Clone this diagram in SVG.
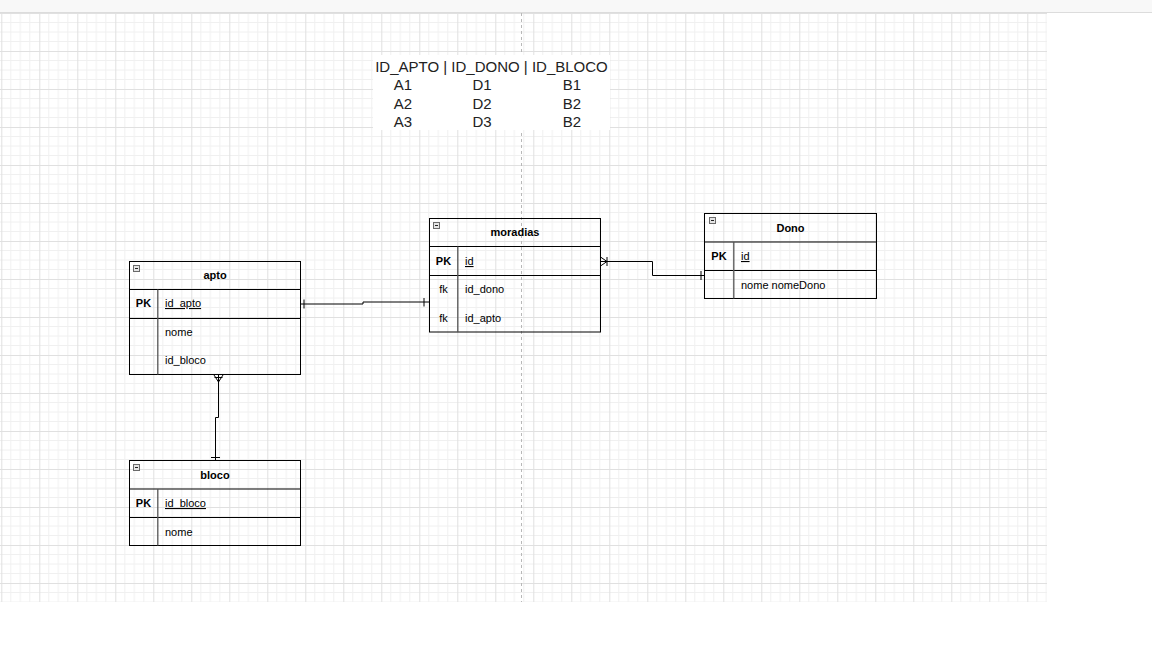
<svg xmlns="http://www.w3.org/2000/svg" width="1152" height="648" viewBox="0 0 1152 648">
<defs>
<pattern id="grid" x="1.3" y="13" width="38" height="38" patternUnits="userSpaceOnUse">
<path d="M9.5,0V38M19,0V38M28.5,0V38M0,9.5H38M0,19H38M0,28.5H38" stroke="#f0f0f0" stroke-width="1" fill="none"/>
<path d="M0.5,0V38M0,0.5H38" stroke="#e0e0e0" stroke-width="1" fill="none"/>
</pattern>
<style>
.box{fill:none;stroke:#000;stroke-width:1}
.sep{stroke:#000;stroke-width:1}
.div{stroke:#555;stroke-width:1.3}
.title{font-family:"Liberation Sans",Arial,sans-serif;font-size:11px;font-weight:bold;fill:#000;text-anchor:middle}
.pk{font-family:"Liberation Sans",Arial,sans-serif;font-size:11px;font-weight:bold;fill:#000;text-anchor:middle}
.fk{font-family:"Liberation Sans",Arial,sans-serif;font-size:11px;fill:#000;text-anchor:middle}
.fld{font-family:"Liberation Sans",Arial,sans-serif;font-size:11px;fill:#000}
.u{text-decoration:underline}
.icon{fill:#e4e4e4;stroke:#6a6a6a;stroke-width:1}
.minus{stroke:#222;stroke-width:1}
.conn{fill:none;stroke:#000;stroke-width:1}
.tbl{font-family:"Liberation Sans",Arial,sans-serif;font-size:15px;fill:#222}
</style>
</defs>
<rect x="0" y="0" width="1152" height="648" fill="#fff"/>
<rect x="0" y="0" width="1152" height="12" fill="#f8f8f8"/>
<line x1="0" y1="12.5" x2="1152" y2="12.5" stroke="#dcdcdc"/>
<rect x="0" y="13" width="1047" height="589" fill="url(#grid)"/>
<line x1="521.5" y1="13" x2="521.5" y2="602" stroke="#b8b8b8" stroke-dasharray="3,3"/>

<g id="note">
<rect x="373" y="55" width="237" height="75" fill="#fff"/>
<text class="tbl" x="491.5" y="72" text-anchor="middle">ID_APTO | ID_DONO | ID_BLOCO</text>
<text class="tbl" x="403" y="90" text-anchor="middle">A1</text>
<text class="tbl" x="482" y="90" text-anchor="middle">D1</text>
<text class="tbl" x="572" y="90" text-anchor="middle">B1</text>
<text class="tbl" x="403" y="109" text-anchor="middle">A2</text>
<text class="tbl" x="482" y="109" text-anchor="middle">D2</text>
<text class="tbl" x="572" y="109" text-anchor="middle">B2</text>
<text class="tbl" x="403" y="127" text-anchor="middle">A3</text>
<text class="tbl" x="482" y="127" text-anchor="middle">D3</text>
<text class="tbl" x="572" y="127" text-anchor="middle">B2</text>
</g>

<g id="connectors">
<path class="conn" d="M300.5,304 H363 V302 H429.5"/>
<path class="conn" d="M304,299.5 V308.5 M424,298 V306.5"/>
<path class="conn" d="M600.5,261.5 H652.5 V275.5 H704.5"/>
<path class="conn" d="M600.5,257 L607,261.5 L600.5,266 M607,257 V266 M701,271 V280"/>
<path class="conn" d="M218.5,375 V417.5 H215.5 V460.5"/>
<path class="conn" d="M214,375 L218.5,382 L223,375 M214.5,377.5 H222.5 M211,457.5 H220"/>
</g>

<g id="apto">
<rect class="box" x="129.5" y="261.5" width="171" height="113"/>
<line class="sep" x1="129.5" y1="289.5" x2="300.5" y2="289.5"/>
<line class="sep" x1="129.5" y1="318.5" x2="300.5" y2="318.5"/>
<line class="div" x1="157.8" y1="289.5" x2="157.8" y2="374.5"/>
<rect class="icon" x="133.5" y="265.5" width="6" height="6"/>
<line class="minus" x1="135" y1="268.5" x2="138" y2="268.5"/>
<text class="title" x="215" y="279">apto</text>
<text class="pk" x="143.5" y="307">PK</text>
<text class="fld u" x="165" y="307">id_apto</text>
<text class="fld" x="165" y="336">nome</text>
<text class="fld" x="165" y="364">id_bloco</text>
</g>

<g id="moradias">
<rect class="box" x="429.5" y="218.5" width="171" height="113.5"/>
<line class="sep" x1="429.5" y1="246.5" x2="600.5" y2="246.5"/>
<line class="sep" x1="429.5" y1="275.5" x2="600.5" y2="275.5"/>
<line class="div" x1="457.8" y1="246.5" x2="457.8" y2="332"/>
<rect class="icon" x="433.5" y="222.5" width="6" height="6"/>
<line class="minus" x1="435" y1="225.5" x2="438" y2="225.5"/>
<text class="title" x="515" y="236">moradias</text>
<text class="pk" x="443.5" y="265">PK</text>
<text class="fld u" x="465" y="265">id</text>
<text class="fk" x="443.5" y="293">fk</text>
<text class="fld" x="465" y="293">id_dono</text>
<text class="fk" x="443.5" y="322">fk</text>
<text class="fld" x="465" y="322">id_apto</text>
</g>

<g id="Dono">
<rect class="box" x="704.5" y="213.5" width="172" height="85"/>
<line class="sep" x1="704.5" y1="242" x2="876.5" y2="242"/>
<line class="sep" x1="704.5" y1="270.5" x2="876.5" y2="270.5"/>
<line class="div" x1="733.8" y1="242" x2="733.8" y2="298.5"/>
<rect class="icon" x="709.5" y="217.5" width="6" height="6"/>
<line class="minus" x1="711" y1="220.5" x2="714" y2="220.5"/>
<text class="title" x="790.5" y="232">Dono</text>
<text class="pk" x="719" y="260">PK</text>
<text class="fld u" x="741" y="260">id</text>
<text class="fld" x="741" y="288.5">nome nomeDono</text>
</g>

<g id="bloco">
<rect class="box" x="129.5" y="460.5" width="171" height="85"/>
<line class="sep" x1="129.5" y1="489" x2="300.5" y2="489"/>
<line class="sep" x1="129.5" y1="517.5" x2="300.5" y2="517.5"/>
<line class="div" x1="157.8" y1="489" x2="157.8" y2="545.5"/>
<rect class="icon" x="133.5" y="464.5" width="6" height="6"/>
<line class="minus" x1="135" y1="467.5" x2="138" y2="467.5"/>
<text class="title" x="215" y="479">bloco</text>
<text class="pk" x="143.5" y="507">PK</text>
<text class="fld u" x="165" y="507">id_bloco</text>
<text class="fld" x="165" y="536">nome</text>
</g>
</svg>
